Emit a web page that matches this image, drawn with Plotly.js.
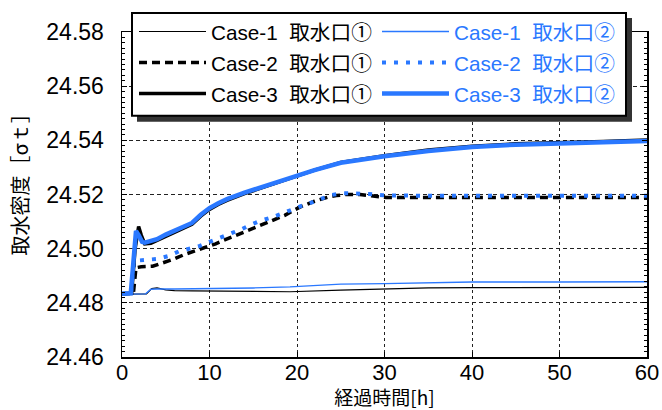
<!DOCTYPE html>
<html>
<head>
<meta charset="utf-8">
<script src="https://cdn.plot.ly/plotly-3.0.1.min.js"></script>
<style>html,body{margin:0;padding:0;background:#fff;}#chart{width:662px;height:410px;}</style>
</head>
<body>
<div id="chart"></div>
<script>
// ---- data ----
const seriesNames = ["Case-1  取水口①", "Case-1  取水口②", "Case-2  取水口①", "Case-2  取水口②", "Case-3  取水口①", "Case-3  取水口②"];
const xTitle = "経過時間[h]";
const yTitle = "取水密度［σｔ］";

const tCase1a = [0, 2.8, 3.4, 4, 5, 6, 8, 10, 15, 19.2, 25, 30, 35, 40, 50, 60];
const vCase1a = [24.4832, 24.4833, 24.4853, 24.4855, 24.4848, 24.4845, 24.4844, 24.4843, 24.4842, 24.4841, 24.4847, 24.4852, 24.4855, 24.4856, 24.4856, 24.4857];

const tCase1b = [0, 2.7, 3.3, 4, 6, 10, 15, 19.2, 25, 30, 35, 40, 50, 60];
const vCase1b = [24.4832, 24.4833, 24.4850, 24.4851, 24.4851, 24.4852, 24.4855, 24.4859, 24.4869, 24.4871, 24.4875, 24.4877, 24.4877, 24.4878];

const tCase2a = [0, 1.3, 1.6, 2.2, 3.5, 4.7, 5.8, 7.1, 8.3, 9.5, 10.7, 11.8, 13, 14, 15.2, 16.3, 17.4, 18.6, 19.7, 20.5, 22, 23.5, 24.5, 25.6, 27.2, 28.7, 30.2, 35, 40, 45, 50, 55, 60];
const vCase2a = [24.4834, 24.4835, 24.4930, 24.4933, 24.4935, 24.4947, 24.4960, 24.4978, 24.4991, 24.5004, 24.5018, 24.5033, 24.5049, 24.5061, 24.5080, 24.5092, 24.5107, 24.5123, 24.5143, 24.5156, 24.5175, 24.5190, 24.5196, 24.5200, 24.5200, 24.5193, 24.5189, 24.5189, 24.5189, 24.5189, 24.5189, 24.5189, 24.5189];

const tCase2b = [0, 1.1, 1.4, 2.6, 4, 5.3, 6.5, 7.7, 8.9, 10, 11.2, 12.4, 13.6, 14.7, 15.8, 17.1, 18.2, 19.3, 20.7, 21.8, 22.8, 23.9, 25.3, 26.8, 28.2, 29.8, 32, 35, 40, 45, 50, 55, 60];
const vCase2b = [24.4834, 24.4835, 24.4955, 24.4957, 24.4962, 24.4973, 24.4990, 24.5000, 24.5010, 24.5025, 24.5040, 24.5058, 24.5071, 24.5088, 24.5103, 24.5115, 24.5129, 24.5145, 24.5160, 24.5172, 24.5184, 24.5198, 24.5205, 24.5205, 24.5202, 24.5197, 24.5195, 24.5195, 24.5195, 24.5195, 24.5195, 24.5195, 24.5195];

const tCase3a = [0, 1.1, 1.5, 1.9, 2.2, 2.6, 3.3, 4, 5, 6, 7, 8, 9, 10, 11, 12, 14, 16, 18, 20, 22, 25, 28, 30, 35, 40, 45, 50, 55, 60];
const vCase3a = [24.4834, 24.4835, 24.5000, 24.5082, 24.5050, 24.5018, 24.5020, 24.5030, 24.5046, 24.5060, 24.5073, 24.5090, 24.5120, 24.5145, 24.5163, 24.5178, 24.5203, 24.5225, 24.5246, 24.5270, 24.5290, 24.5318, 24.5334, 24.5343, 24.5364, 24.5378, 24.5387, 24.5393, 24.5396, 24.5401];

const tCase3b = [0, 1.0, 1.3, 1.6, 1.9, 2.3, 2.6, 3.3, 4, 5, 6, 7, 8, 9, 10, 11, 12, 14, 16, 18, 20, 22, 25, 28, 30, 35, 40, 45, 50, 55, 60];
const vCase3b = [24.4834, 24.4835, 24.4950, 24.5065, 24.5050, 24.5025, 24.5022, 24.5027, 24.5035, 24.5052, 24.5065, 24.5078, 24.5095, 24.5125, 24.5150, 24.5168, 24.5183, 24.5207, 24.5228, 24.5248, 24.5272, 24.5290, 24.5317, 24.5332, 24.5341, 24.5361, 24.5375, 24.5384, 24.5390, 24.5393, 24.5398];

const xTickVals = [0, 10, 20, 30, 40, 50, 60];
const yTickVals = [24.46, 24.48, 24.50, 24.52, 24.54, 24.56, 24.58];

// ---- styles ----
const BLACK = "#000000";
const BLUE = "#2a78ff";
const FONT = "'Liberation Sans', Arial, 'Noto Sans CJK JP', sans-serif";
const CJK = "'Noto Sans CJK JP', 'Liberation Sans', sans-serif";

function nm(i, color) {
  return '<span style="color:' + color + ';font-size:20.7px">' + seriesNames[i] + '</span>';
}

const traces = [
  {x: tCase1a, y: vCase1a, name: nm(0, BLACK), line: {color: BLACK, width: 1.2}},
  {x: tCase1b, y: vCase1b, name: nm(1, BLUE), line: {color: BLUE, width: 1.4}},
  {x: tCase2a, y: vCase2a, name: nm(2, BLACK), line: {color: BLACK, width: 3.5, dash: "8px,5px"}},
  {x: tCase2b, y: vCase2b, name: nm(3, BLUE), line: {color: BLUE, width: 4, dash: "4px,8px"}},
  {x: tCase3a, y: vCase3a, name: nm(4, BLACK), line: {color: BLACK, width: 3.5}},
  {x: tCase3b, y: vCase3b, name: nm(5, BLUE), line: {color: BLUE, width: 4.5}}
].map(t => Object.assign({type: "scatter", mode: "lines", hoverinfo: "skip"}, t));

// plot area in pixels: x 122..647, y 31..357
const L = 122, R = 15, T = 31, B = 53, W = 662, H = 410;
const pw = W - L - R, ph = H - T - B;
const px = v => (v - L) / pw;
const py = v => (H - B - v) / ph;

const layout = {
  width: W, height: H,
  margin: {l: L, r: R, t: T, b: B, pad: 0},
  paper_bgcolor: "#fff", plot_bgcolor: "#fff",
  font: {family: FONT, size: 20, color: "#000"},
  showlegend: true,
  legend: {
    orientation: "h",
    x: px(134), y: py(11), xanchor: "left", yanchor: "top",
    xref: "paper", yref: "paper",
    bgcolor: "rgba(0,0,0,0)", borderwidth: 0,
    font: {family: FONT, size: 21.5, color: "#000"},
    itemwidth: 67,
    entrywidth: 161, entrywidthmode: "pixels",
    tracegroupgap: 0,
    traceorder: "normal"
  },
  xaxis: {
    range: [0, 60], tickvals: xTickVals, ticktext: xTickVals.map(String),
    showgrid: true, gridcolor: "#222", gridwidth: 1, griddash: "3px,3px",
    zeroline: false, showline: true, linecolor: "#000", linewidth: 1.5, mirror: "allticks",
    ticks: "inside", ticklen: 5, tickcolor: "#000",
    tickfont: {family: FONT, size: 22},
    ticklabelstandoff: -5,
    title: {text: xTitle, font: {family: CJK, size: 19}, standoff: 12}
  },
  yaxis: {
    range: [24.46, 24.58], tickvals: yTickVals, tickformat: ".2f",
    showgrid: true, gridcolor: "#222", gridwidth: 1, griddash: "4px,3px",
    zeroline: false, showline: true, linecolor: "#000", linewidth: 1.5, mirror: "allticks",
    ticks: "inside", ticklen: 5, tickcolor: "#000",
    minor: {dtick: 0.002, ticks: "inside", ticklen: 3, tickcolor: "#000", showgrid: false},
    tickfont: {family: FONT, size: 23},
    ticklabelstandoff: 12
  },
  annotations: [
    {text: yTitle, xref: "paper", yref: "paper", x: px(20), y: py(179),
     xanchor: "center", yanchor: "middle", textangle: -90, showarrow: false,
     font: {family: CJK, size: 20, color: "#000"}}
  ],
  shapes: [
    // legend drop shadow and frame
    {type: "rect", xref: "paper", yref: "paper", layer: "above",
     x0: px(137), x1: px(632), y0: py(17), y1: py(121),
     fillcolor: "#333", line: {width: 0}},
    {type: "rect", xref: "paper", yref: "paper", layer: "above",
     x0: px(132), x1: px(626), y0: py(12), y1: py(115),
     fillcolor: "#fff", line: {color: "#000", width: 2}}
  ]
};

Plotly.newPlot("chart", traces, layout, {displayModeBar: false, staticPlot: true});
</script>
</body>
</html>
